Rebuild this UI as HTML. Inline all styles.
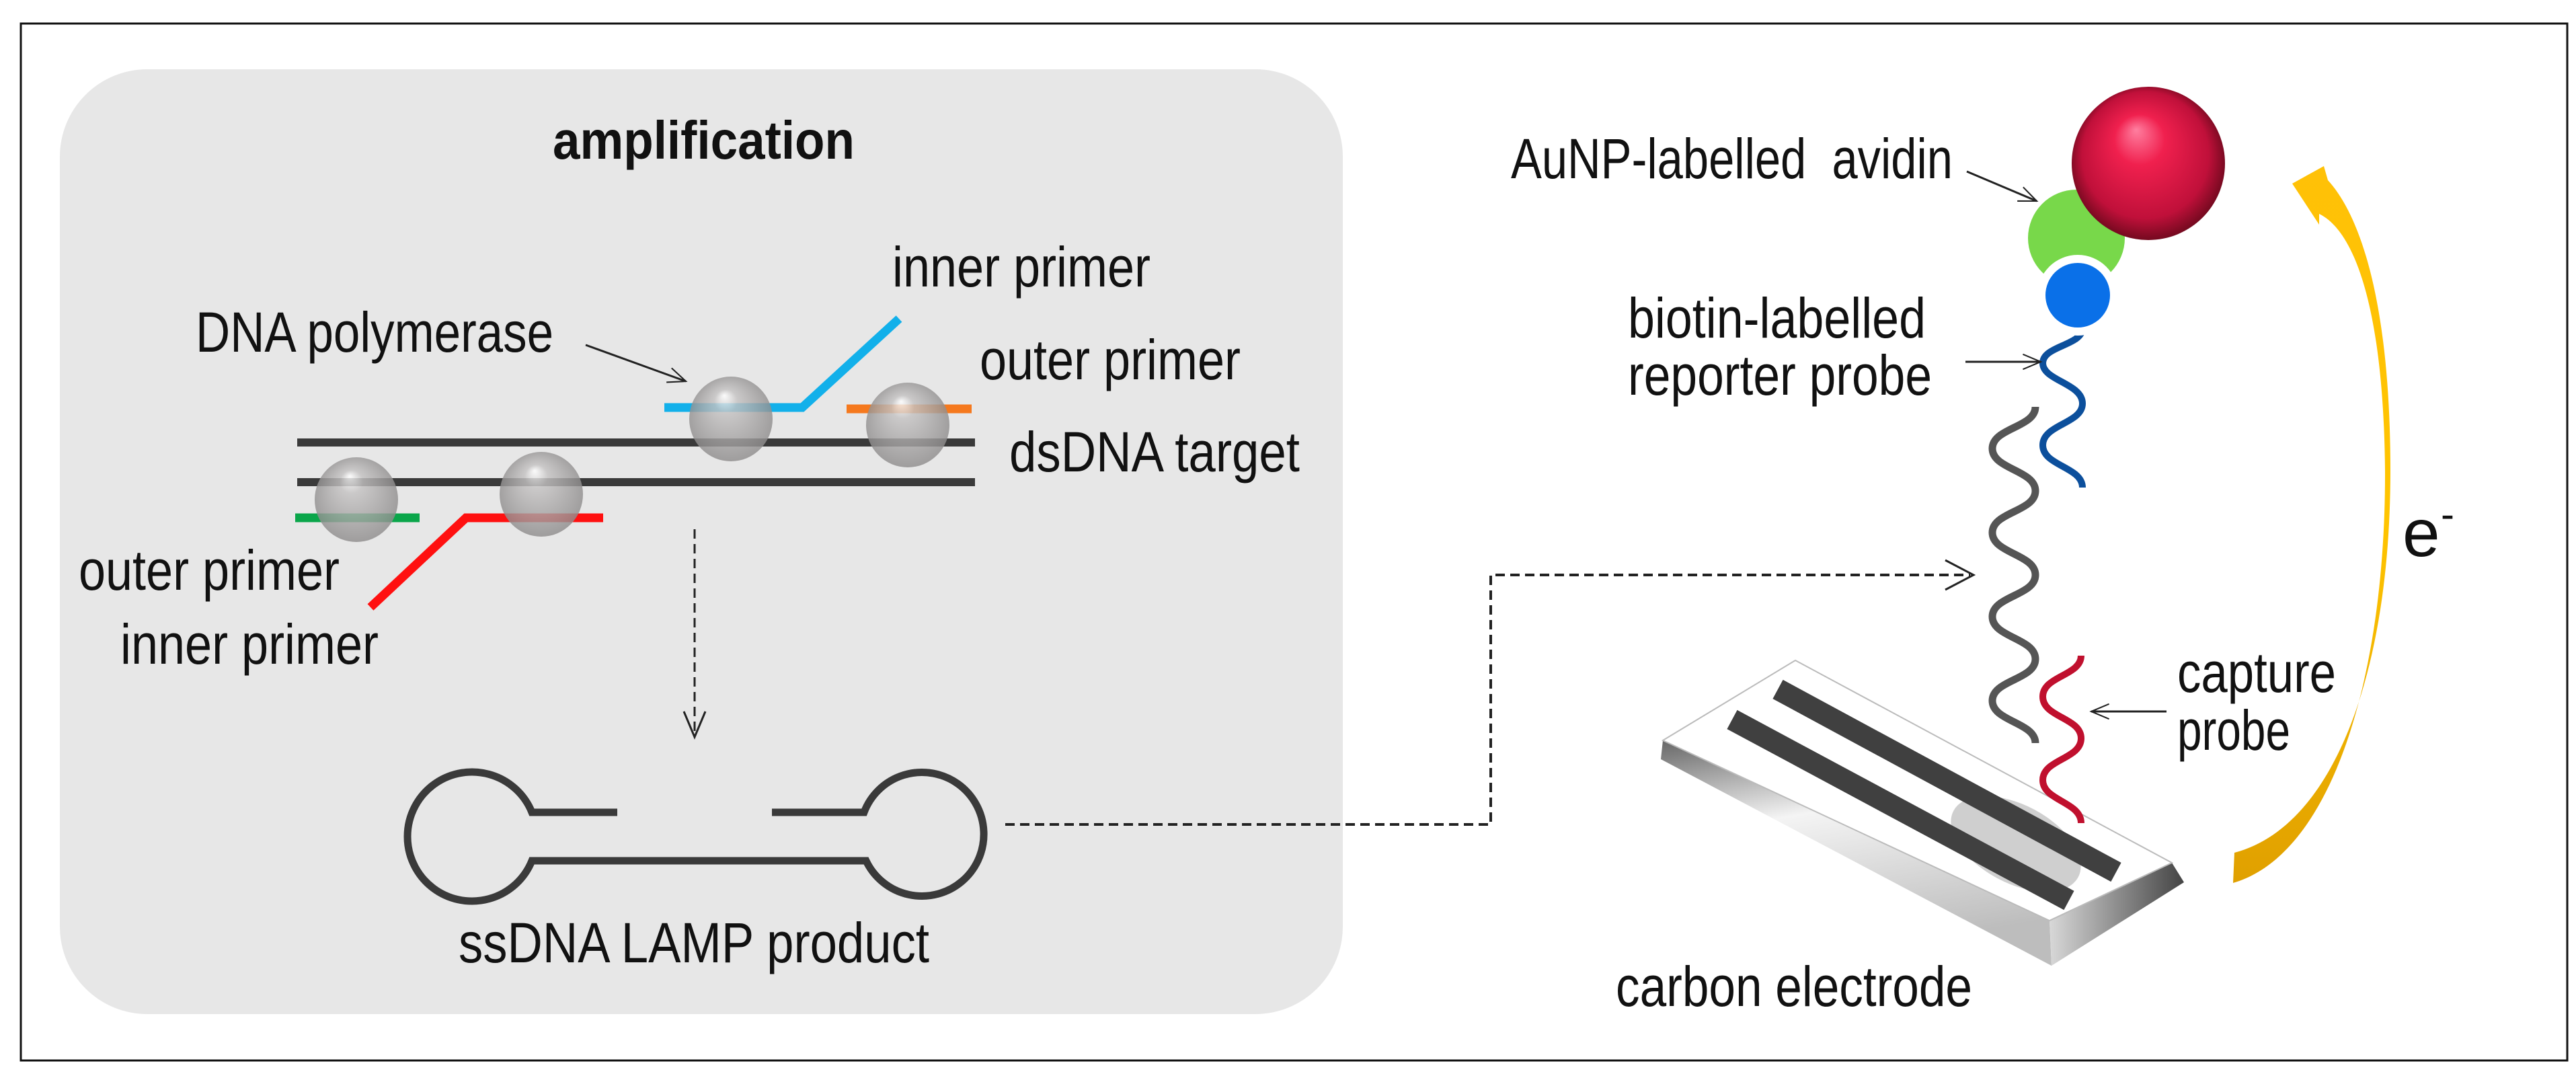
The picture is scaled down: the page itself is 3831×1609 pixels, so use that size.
<!DOCTYPE html>
<html><head><meta charset="utf-8"><style>
html,body{margin:0;padding:0;background:#fff;}
svg{display:block;}
text{font-family:"Liberation Sans",Arial,sans-serif;fill:#111;}
</style></head><body>
<svg width="3831" height="1609" viewBox="0 0 3831 1609" xmlns="http://www.w3.org/2000/svg">
<defs>
<radialGradient id="gs" cx="0.5" cy="0.5" r="0.55" fx="0.42" fy="0.22">
<stop offset="0" stop-color="#ffffff"/><stop offset="0.25" stop-color="#c4c2c2"/><stop offset="0.8" stop-color="#9a9898"/><stop offset="1" stop-color="#8a8888"/>
</radialGradient>
<radialGradient id="rs" cx="0.5" cy="0.5" r="0.55" fx="0.42" fy="0.28">
<stop offset="0" stop-color="#ff7fa0"/><stop offset="0.3" stop-color="#f0204e"/><stop offset="0.75" stop-color="#c0103a"/><stop offset="1" stop-color="#5a0716"/>
</radialGradient>
<linearGradient id="side" x1="0" y1="0" x2="0.3" y2="1">
<stop offset="0" stop-color="#666"/><stop offset="0.4" stop-color="#f4f4f4"/><stop offset="1" stop-color="#bdbdbd"/>
</linearGradient>
<linearGradient id="endf" x1="0" y1="0" x2="1" y2="0">
<stop offset="0" stop-color="#d8d8d8"/><stop offset="1" stop-color="#444"/>
</linearGradient>
<linearGradient id="yl" x1="0" y1="0" x2="0" y2="1">
<stop offset="0" stop-color="#ffc107"/><stop offset="0.5" stop-color="#ffc400"/><stop offset="1" stop-color="#e0a000"/>
</linearGradient>
<marker id="ah" viewBox="0 0 20 20" refX="18" refY="10" markerWidth="14" markerHeight="14" markerUnits="userSpaceOnUse" orient="auto" overflow="visible">
<path d="M-20,-6 L18,10 L-20,26" fill="none" stroke="#222" stroke-width="3"/>
</marker>
</defs>

<rect x="31" y="35" width="3787" height="1542" fill="#fff" stroke="#111" stroke-width="3"/>
<rect x="89" y="103" width="1908" height="1405" rx="130" ry="130" fill="#e7e7e7"/>

<text x="822" y="236" font-size="80" font-weight="bold" textLength="449" lengthAdjust="spacingAndGlyphs">amplification</text>

<line x1="442" y1="658" x2="1450" y2="658" stroke="#3a3a3a" stroke-width="12"/>
<line x1="442" y1="717" x2="1450" y2="717" stroke="#3a3a3a" stroke-width="12"/>
<polyline points="988,606 1193,606 1337,474" fill="none" stroke="#12b0ea" stroke-width="13"/>
<line x1="1259" y1="608" x2="1445" y2="608" stroke="#f5791e" stroke-width="13"/>
<line x1="439" y1="770" x2="624" y2="770" stroke="#0aa64a" stroke-width="13"/>
<polyline points="897,770 693,770 551,903" fill="none" stroke="#ff1010" stroke-width="13"/>
<g opacity="0.82">
<ellipse cx="1087" cy="623" rx="62" ry="63" fill="url(#gs)"/>
<ellipse cx="1350" cy="632" rx="62" ry="63" fill="url(#gs)"/>
<ellipse cx="530" cy="743" rx="62" ry="63" fill="url(#gs)"/>
<ellipse cx="805" cy="735" rx="62" ry="63" fill="url(#gs)"/>
</g>

<text x="291" y="523" font-size="84" textLength="532" lengthAdjust="spacingAndGlyphs">DNA polymerase</text>
<line x1="871" y1="513" x2="1020" y2="567" stroke="#222" stroke-width="3" marker-end="url(#ah)"/>
<text x="1327" y="426" font-size="84" textLength="384" lengthAdjust="spacingAndGlyphs">inner primer</text>
<text x="1457" y="564" font-size="84" textLength="388" lengthAdjust="spacingAndGlyphs">outer primer</text>
<text x="1501" y="701" font-size="84" textLength="432" lengthAdjust="spacingAndGlyphs">dsDNA target</text>
<text x="117" y="877" font-size="84" textLength="388" lengthAdjust="spacingAndGlyphs">outer primer</text>
<text x="179" y="987" font-size="84" textLength="384" lengthAdjust="spacingAndGlyphs">inner primer</text>

<line x1="1033" y1="787" x2="1033" y2="1094" stroke="#222" stroke-width="3" stroke-dasharray="14 8"/>
<polyline points="1017,1058 1033,1096 1049,1058" fill="none" stroke="#222" stroke-width="3"/>

<path d="M918,1208 L791,1208 A96,96 0 1 0 791,1280 L1288,1280 A92,92 0 1 0 1285,1208 L1148,1208" fill="none" stroke="#3a3a3a" stroke-width="11"/>
<text x="682" y="1431" font-size="84" textLength="700" lengthAdjust="spacingAndGlyphs">ssDNA LAMP product</text>

<polyline points="1495,1226 2217,1226 2217,855 2930,855" fill="none" stroke="#222" stroke-width="4" stroke-dasharray="14 8"/>
<polyline points="2893,833 2935,855 2893,877" fill="none" stroke="#222" stroke-width="3"/>

<polygon points="2473,1101 3048,1369 3051,1436 2470,1129" fill="url(#side)"/>
<polygon points="3048,1369 3230,1283 3248,1312 3051,1436" fill="url(#endf)"/>
<polygon points="2670,982 3230,1283 3048,1369 2473,1101" fill="#fff" stroke="#bbb" stroke-width="2"/>
<ellipse cx="2998" cy="1255" rx="105" ry="58" transform="rotate(28 2998 1255)" fill="#cfcfcf"/>
<line x1="2644" y1="1025" x2="3147" y2="1297" stroke="#404040" stroke-width="32"/>
<line x1="2576" y1="1070" x2="3077" y2="1339" stroke="#404040" stroke-width="32"/>

<path d="M3027,605 C3027,636 2963,636 2963,667 S3027,699 3027,730 S2963,761 2963,792 S3027,824 3027,855 S2963,886 2963,917 S3027,949 3027,980 S2963,1011 2963,1042 S3027,1074 3027,1105" fill="none" stroke="#555" stroke-width="11"/>
<path d="M3097,488 C3097,514 3038,514 3038,540 S3097,570 3097,600 S3038,631 3038,662 S3097,694 3097,725" fill="none" stroke="#0c4f9c" stroke-width="10"/>
<path d="M3095,975 C3095,1005 3038,1005 3038,1036 S3095,1067 3095,1098 S3038,1129 3038,1160 S3095,1192 3095,1224" fill="none" stroke="#c0102e" stroke-width="10"/>

<circle cx="3088" cy="354" r="72" fill="#78d84a"/>
<circle cx="3090" cy="439" r="60" fill="#fff"/>
<circle cx="3090" cy="439" r="48" fill="#0a70e8"/>
<circle cx="3195" cy="243" r="114" fill="url(#rs)"/>

<text x="2247" y="265" font-size="84" textLength="657" lengthAdjust="spacingAndGlyphs">AuNP-labelled&#160; avidin</text>
<line x1="2925" y1="255" x2="3029" y2="299" stroke="#222" stroke-width="3" marker-end="url(#ah)"/>
<text x="2421" y="502" font-size="84" textLength="443" lengthAdjust="spacingAndGlyphs">biotin-labelled</text>
<text x="2421" y="587" font-size="84" textLength="452" lengthAdjust="spacingAndGlyphs">reporter probe</text>
<line x1="2923" y1="538" x2="3035" y2="538" stroke="#222" stroke-width="3" marker-end="url(#ah)"/>
<text x="3238" y="1029" font-size="84" textLength="236" lengthAdjust="spacingAndGlyphs">capture</text>
<text x="3238" y="1115" font-size="84" textLength="168" lengthAdjust="spacingAndGlyphs">probe</text>
<line x1="3222" y1="1058" x2="3110" y2="1058" stroke="#222" stroke-width="3" marker-end="url(#ah)"/>
<text x="2403" y="1496" font-size="84" textLength="530" lengthAdjust="spacingAndGlyphs">carbon electrode</text>

<path d="M3456,247 L3409,273 L3449,334 L3449,318 C3505,345 3545,470 3547,700 C3548,1000 3470,1270 3321,1313 L3323,1268 C3470,1230 3555,1000 3555,700 C3555,450 3510,320 3462,268 Z" fill="url(#yl)"/>
<text x="3573" y="827" font-size="100">e</text>
<text x="3630" y="785" font-size="60">-</text>
</svg>
</body></html>
